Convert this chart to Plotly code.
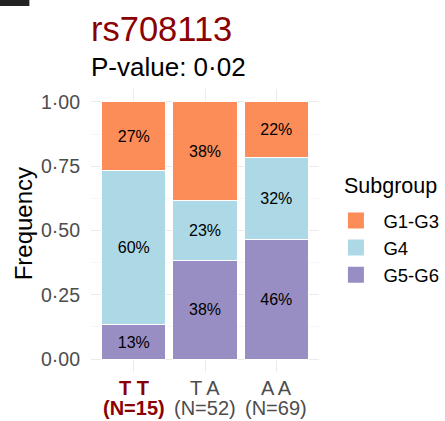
import plotly.graph_objects as go

genotypes = ["T T", "T A", "A A"]
n_counts = [15, 52, 69]
subgroups = ["G5-G6", "G4", "G1-G3"]
freq_g5g6 = [0.133, 0.385, 0.464]
freq_g4 = [0.600, 0.231, 0.319]
freq_g1g3 = [0.267, 0.385, 0.217]
colors = {"G1-G3": "#FC8D59", "G4": "#ADD8E6", "G5-G6": "#998EC3"}
y_ticks = [0, 0.25, 0.5, 0.75, 1.0]
y_ticklabels = ["0·00", "0·25", "0·50", "0·75", "1·00"]

series = {"G5-G6": freq_g5g6, "G4": freq_g4, "G1-G3": freq_g1g3}
xs = list(range(len(genotypes)))

W, H = 445, 421
L, R, T, B = 91.4, 126.4, 89, 49
PW, PH = W - L - R, H - T - B


def px_x(x):
    return (x - L) / PW


def px_y(y):
    return (H - B - y) / PH


FONT = "Liberation Sans"

fig = go.Figure()
for sg in subgroups:
    vals = series[sg]
    fig.add_trace(go.Bar(
        x=xs, y=vals, width=0.9, name=sg,
        marker=dict(color=colors[sg], line=dict(color="white", width=1)),
        text=[f"{round(v*100)}%" for v in vals],
        textposition="inside", insidetextanchor="middle",
        textfont=dict(size=16, color="black", family=FONT),
        showlegend=False, hoverinfo="skip",
    ))

for sg in ["G1-G3", "G4", "G5-G6"]:
    fig.add_trace(go.Scatter(
        x=[None], y=[None], mode="markers", name=sg,
        marker=dict(symbol="square", size=24.5, color=colors[sg]),
        showlegend=True,
    ))

annotations = [
    dict(text="rs708113", xref="paper", yref="paper", x=px_x(89), y=px_y(29),
         xanchor="left", yanchor="middle", showarrow=False,
         font=dict(size=34.5, color="#8B0000", family=FONT)),
    dict(text="P-value: 0·02", xref="paper", yref="paper", x=px_x(89), y=px_y(67),
         xanchor="left", yanchor="middle", showarrow=False,
         font=dict(size=26, color="black", family=FONT)),
    dict(text="Frequency", xref="paper", yref="paper", x=px_x(25), y=px_y(224),
         xanchor="center", yanchor="middle", textangle=-90, showarrow=False,
         font=dict(size=24, color="black", family=FONT)),
    dict(text="Subgroup", xref="paper", yref="paper", x=px_x(342), y=px_y(186),
         xanchor="left", yanchor="middle", showarrow=False,
         font=dict(size=21.5, color="black", family=FONT)),
]

# x-axis category labels (two lines, tight line height as in the reference)
for i, (g, n) in enumerate(zip(genotypes, n_counts)):
    col = "#8B0000" if i == 0 else "#4D4D4D"
    l1 = f"<b>{g}</b>" if i == 0 else g
    l2 = f"<b>(N={n})</b>" if i == 0 else f"(N={n})"
    annotations.append(dict(text=l1, xref="x", yref="paper", x=xs[i], y=px_y(388),
                            xanchor="center", yanchor="middle", showarrow=False,
                            font=dict(size=20, color=col, family=FONT)))
    annotations.append(dict(text=l2, xref="x", yref="paper", x=xs[i], y=px_y(407.5),
                            xanchor="center", yanchor="middle", showarrow=False,
                            font=dict(size=20, color=col, family=FONT)))

fig.update_layout(
    width=W, height=H,
    barmode="stack", bargap=0.1,
    plot_bgcolor="white", paper_bgcolor="white",
    margin=dict(l=L, r=R, t=T, b=B, autoexpand=False),
    font=dict(family=FONT, color="#4D4D4D"),
    xaxis=dict(
        range=[-0.6, 2.6], tickmode="array", tickvals=xs, showticklabels=False,
        showgrid=True, gridcolor="#EBEBEB", gridwidth=1,
        zeroline=False, ticks="", showline=False, automargin=False,
    ),
    yaxis=dict(
        range=[-0.05, 1.05], tickmode="array", tickvals=y_ticks, ticktext=y_ticklabels,
        tickfont=dict(size=19.5, color="#4D4D4D"),
        showgrid=True, gridcolor="#EBEBEB", gridwidth=1,
        minor=dict(tickvals=[0.125, 0.375, 0.625, 0.875], showgrid=True, gridcolor="#F5F5F5", gridwidth=1),
        zeroline=False, ticks="", showline=False, automargin=False,
        ticklabelstandoff=10,
    ),
    legend=dict(
        font=dict(size=18.5, color="black"),
        x=px_x(328), xanchor="left", y=px_y(202), yanchor="top",
        itemsizing="trace", tracegroupgap=0, traceorder="normal",
        itemwidth=45,
    ),
    annotations=annotations,
)
fig.add_shape(type="rect", xref="paper", yref="paper",
              x0=px_x(0), x1=px_x(30), y0=px_y(6), y1=px_y(0),
              line=dict(width=0), fillcolor="#222222")

fig.write_html("out.html", config={"displayModeBar": False},
               post_script="document.body.style.margin='0';document.body.style.padding='0';")
